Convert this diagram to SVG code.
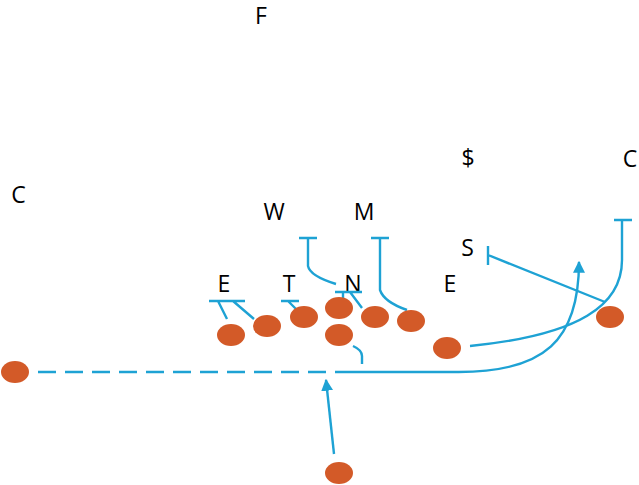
<svg xmlns="http://www.w3.org/2000/svg" width="639" height="485" viewBox="0 0 639 485">
<style>
.p{fill:#D35A28}
.r{fill:none;stroke:#1EA2D4;stroke-width:2.4;stroke-linecap:butt}
.t{font-family:"Open Sans","Liberation Sans",sans-serif;font-size:23px;fill:#000;text-anchor:middle}
</style>
<defs>
<marker id="ah" viewBox="0 0 10 10" refX="9" refY="5" markerWidth="5" markerHeight="5" orient="auto" markerUnits="strokeWidth">
<path d="M0,0 L10,5 L0,10 z" fill="#1EA2D4"/>
</marker>
</defs>
<rect width="639" height="485" fill="#fff"/>
<g id="labels">
<text class="t" x="261" y="24">F</text>
<text class="t" x="18.5" y="203">C</text>
<text class="t" x="468" y="166">$</text>
<text class="t" x="630" y="167">C</text>
<text class="t" x="274" y="220">W</text>
<text class="t" x="364" y="220">M</text>
<text class="t" x="467.5" y="256">S</text>
<text class="t" x="224" y="292">E</text>
<text class="t" x="289" y="292">T</text>
<text class="t" x="353" y="292">N</text>
<text class="t" x="450" y="292">E</text>
</g>
<g id="connectors">
<path class="r" d="M209,301 H245 M218,301 L227,319 M233,301 L254,319"/>
<path class="r" d="M281,301 H299 M288,301 L298,311"/>
<path class="r" d="M335,292 H362 M343,292 V300 M350,292 L362,308"/>
<path class="r" d="M299,238 H317 M308,238 V266 Q310,276 336,284"/>
<path class="r" d="M371,238 H389 M380,238 V290 Q384,302 407,310"/>
<path class="r" d="M353,346 Q362,350 362,356 V364"/>
<path class="r" d="M38,372 H326" stroke-dasharray="18 9"/>
<path class="r" d="M335,372 H455 C545,373 579,340 579,262" marker-end="url(#ah)"/>
<path class="r" d="M334,454 L326,380" marker-end="url(#ah)"/>
<path class="r" d="M470,346 C580,335 622,305 622,260 V220 M614,220 H632"/>
<path class="r" d="M605,302 L488,255 M488,246 V265"/>
</g>
<g id="players">
<ellipse id="p1" class="p" cx="15" cy="372" rx="14" ry="11"/>
<ellipse id="p2" class="p" cx="231" cy="335" rx="14" ry="11"/>
<ellipse id="p3" class="p" cx="267" cy="326" rx="14" ry="11"/>
<ellipse id="p4" class="p" cx="304" cy="317" rx="14" ry="11"/>
<ellipse id="p5" class="p" cx="339" cy="308" rx="14" ry="11"/>
<ellipse id="p6" class="p" cx="339" cy="335" rx="14" ry="11"/>
<ellipse id="p7" class="p" cx="375" cy="317" rx="14" ry="11"/>
<ellipse id="p8" class="p" cx="411" cy="321" rx="14" ry="11"/>
<ellipse id="p9" class="p" cx="447" cy="348" rx="14" ry="11"/>
<ellipse id="p10" class="p" cx="610" cy="317" rx="14" ry="11"/>
<ellipse id="p11" class="p" cx="339" cy="473" rx="14" ry="11"/>
</g>
</svg>
